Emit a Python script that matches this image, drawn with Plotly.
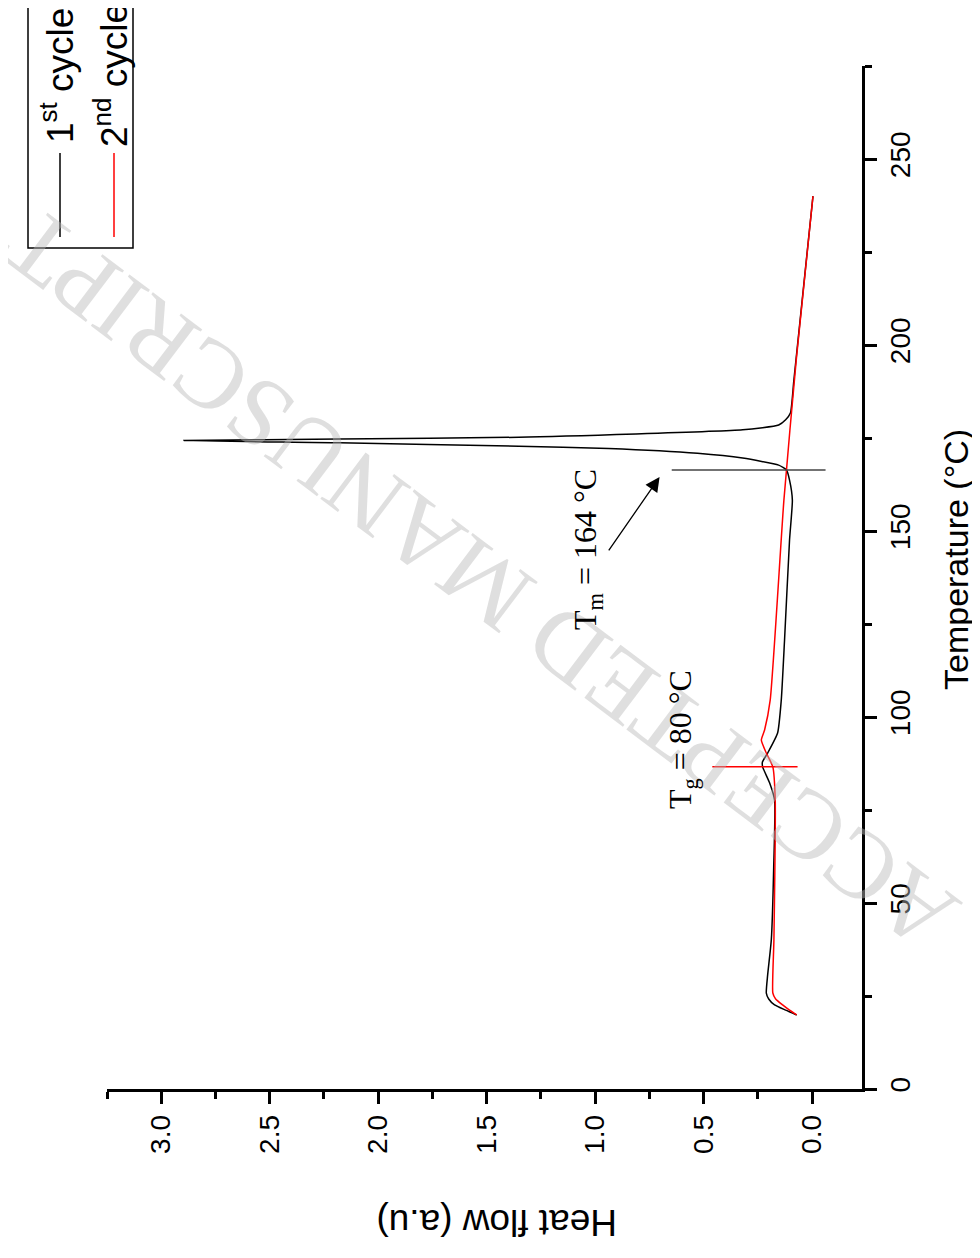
import plotly.graph_objects as go

# 1st cycle (black) - temperature (°C) and heat flow (a.u.)
temp_1st = [19.9, 21.2, 22.6, 24.2, 25.8, 30.6, 40.1, 59.7, 77.7, 82.3, 86.6, 87.9, 90.3, 95.7,
            104.6, 120.7, 147.6, 158.3, 163.7, 166.4, 167.7, 169.6, 170.9, 172.2, 172.8, 173.7,
            174.3, 174.7, 175.2, 177.2, 178.5, 179.9, 181.7, 190.6, 240.0]
heat_1st = [0.071, 0.122, 0.173, 0.200, 0.211, 0.205, 0.188, 0.177, 0.173, 0.196, 0.228, 0.229, 0.205, 0.159,
            0.142, 0.127, 0.104, 0.091, 0.104, 0.118, 0.154, 0.320, 0.528, 0.938, 1.352, 2.18,
            2.896, 2.18, 1.352, 0.320, 0.154, 0.122, 0.100, 0.084, -0.004]

# 2nd cycle (red)
temp_2nd = [19.9, 21.2, 22.6, 24.2, 25.8, 40.1, 77.7, 86.6, 90.3, 93.8, 96.5, 104.6, 158.3, 196.0, 240.0]
heat_2nd = [0.071, 0.104, 0.136, 0.168, 0.181, 0.176, 0.170, 0.181, 0.211, 0.234, 0.219, 0.193, 0.130, 0.073, -0.004]

tg_line_temp = 86.6
tg_line_heat = [0.46, 0.067]
tm_line_temp = 166.4
tm_line_heat = [0.647, -0.062]

heat_ticks = [3.0, 2.5, 2.0, 1.5, 1.0, 0.5, 0.0]
heat_labels = ["3.0", "2.5", "2.0", "1.5", "1.0", "0.5", "0.0"]

# plot area in screen pixels (page body has an 8px margin)
OFF = 8
L, R, T, B = 107, 862, 66, 1089
def px(x):
    return (x - L) / (R - L)
def py(y):
    return (B - y) / (B - T)

sans = "Liberation Sans"
serif = "Liberation Serif"

fig = go.Figure()
fig.add_trace(go.Scatter(x=heat_1st, y=temp_1st, mode="lines", line=dict(color="black", width=1.5, shape="spline", smoothing=0.5), showlegend=False))
fig.add_trace(go.Scatter(x=heat_2nd, y=temp_2nd, mode="lines", line=dict(color="red", width=1.5, shape="spline", smoothing=0.5), showlegend=False))
fig.add_trace(go.Scatter(x=tg_line_heat, y=[tg_line_temp] * 2, mode="lines", line=dict(color="red", width=1.5), showlegend=False))
fig.add_trace(go.Scatter(x=tm_line_heat, y=[tm_line_temp] * 2, mode="lines", line=dict(color="#444444", width=1.5), showlegend=False))

def label(x, y, text, angle, size, family=sans, color="black"):
    return dict(x=px(x), y=py(y), xref="paper", yref="paper", text=text, showarrow=False,
                xanchor="center", yanchor="middle", textangle=angle,
                font=dict(family=family, size=size, color=color))

ann = [
    # watermark
    label(480, 580, "ACCEPTED MANUSCRIPT", -143, 98, serif, "rgba(185,185,185,0.45)"),
    # axis titles
    label(956, 560, "Temperature (°C)", -90, 34),
    label(497, 1222, "Heat flow (a.u)", 180, 37),
    # Tm / Tg labels
    label(587, 550, "T<sub>m</sub> = 164 °C", -90, 32, serif),
    label(682, 740, "T<sub>g</sub> = 80 °C", -90, 32, serif),
    # legend texts
    label(57, 75, "1<sup>st</sup> cycle", -90, 37),
    label(111, 75, "2<sup>nd</sup> cycle", -90, 37),
]
# arrow pointing at Tm
ann.append(dict(x=0.703, y=164.5, ax=0.942, ay=144.4, xref="x", yref="y", axref="x", ayref="y", text="",
                showarrow=True, arrowhead=2, arrowsize=2.2, arrowwidth=1.3, arrowcolor="black"))

shapes = [
    dict(type="rect", xref="paper", yref="paper", x0=px(28), x1=px(133), y0=py(248), y1=py(-5),
         line=dict(color="black", width=1.5)),
    dict(type="line", xref="paper", yref="paper", x0=px(60), x1=px(60), y0=py(237), y1=py(153),
         line=dict(color="black", width=1.5)),
    dict(type="line", xref="paper", yref="paper", x0=px(114), x1=px(114), y0=py(237), y1=py(153),
         line=dict(color="red", width=1.5)),
]

fig.update_layout(
    width=980, height=1258,
    margin=dict(l=L - OFF, r=980 - R + OFF, t=T - OFF, b=1258 - B + OFF),
    plot_bgcolor="white", paper_bgcolor="white",
    annotations=ann, shapes=shapes,
    showlegend=False,
)
fig.update_xaxes(range=[3.25, -0.23], tickvals=heat_ticks, ticktext=heat_labels,
                 showline=True, linecolor="black", linewidth=2.5, ticks="outside", ticklen=12, tickwidth=2.5,
                 tickcolor="black", tickangle=-90, tickfont=dict(family=sans, size=28, color="black"),
                 minor=dict(dtick=0.25, tick0=0, ticks="outside", ticklen=7, tickwidth=2.5, tickcolor="black"),
                 showgrid=False, zeroline=False)
fig.update_yaxes(range=[0, 275], side="right", dtick=50, tick0=0,
                 showline=True, linecolor="black", linewidth=2.5, ticks="outside", ticklen=12, tickwidth=2.5,
                 tickcolor="black", tickangle=-90, tickfont=dict(family=sans, size=28, color="black"),
                 minor=dict(dtick=25, tick0=0, ticks="outside", ticklen=7, tickwidth=2.5, tickcolor="black"),
                 showgrid=False, zeroline=False)

fig.write_html("out.html")
